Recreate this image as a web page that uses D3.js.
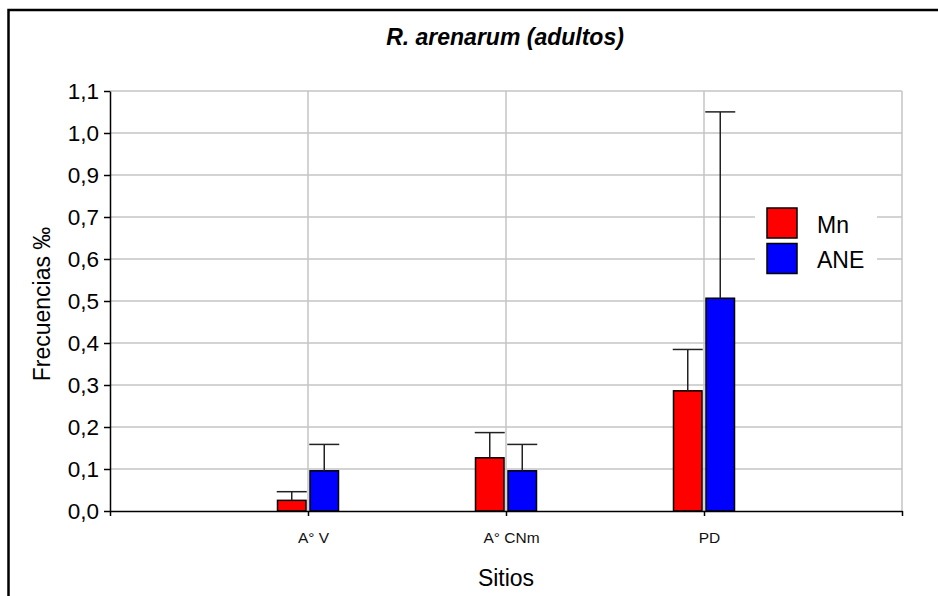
<!DOCTYPE html>
<html>
<head>
<meta charset="utf-8">
<script src="https://cdn.jsdelivr.net/npm/d3@7"></script>
<style>
  html, body { margin: 0; padding: 0; background: #fff; }
  svg { display: block; font-family: "Liberation Sans", Arial, sans-serif; }
</style>
</head>
<body>
<svg id="chart" width="938" height="596"></svg>
<script>
// Sites and series
const categories = ["A° V", "A° CNm", "PD"];
const seriesNames = ["Mn", "ANE"];
const seriesColors = ["#ff0000", "#0000ff"];

// Mean frequencies and upper error (SD) per site
const mnValues = [0.027, 0.135, 0.305];
const mnErrors = [0.022, 0.064, 0.105];
const aneValues = [0.102, 0.102, 0.540];
const aneErrors = [0.067, 0.067, 0.473];

// Value axis: ten equal steps up to yMax, labelled with one decimal
const yMax = 1.066;
const yTickLabels = ["0,0", "0,1", "0,2", "0,3", "0,4", "0,5", "0,6", "0,7", "0,9", "1,0", "1,1"];

const title = "R. arenarum (adultos)";
const xTitle = "Sitios";
const yTitle = "Frecuencias ‰";

const svg = d3.select("#chart");
const W = 938, H = 596;
const plot = { left: 110, right: 902, top: 91, bottom: 511 };

// Outer frame
svg.append("rect")
  .attr("x", 8.5).attr("y", 10)
  .attr("width", W + 20).attr("height", H + 20)
  .attr("fill", "#fff").attr("stroke", "#000").attr("stroke-width", 2.5);

// Scales: one empty slot on each side of the three sites
const x = d3.scaleLinear().domain([0, categories.length + 1]).range([plot.left, plot.right]);
const y = d3.scaleLinear().domain([0, yMax]).range([plot.bottom, plot.top]);
const yTicks = yTickLabels.map((_, i) => i * yMax / (yTickLabels.length - 1));
const xTicks = d3.range(0, categories.length + 2);

const g = svg.append("g");

// Gridlines
g.append("g").selectAll("line.h").data(yTicks.slice(1)).join("line")
  .attr("x1", plot.left).attr("x2", plot.right)
  .attr("y1", d => y(d)).attr("y2", d => y(d))
  .attr("stroke", "#c4c4c4").attr("stroke-width", 1.5);
g.append("g").selectAll("line.v").data(xTicks.slice(1)).join("line")
  .attr("x1", d => x(d)).attr("x2", d => x(d))
  .attr("y1", plot.top).attr("y2", plot.bottom)
  .attr("stroke", "#c4c4c4").attr("stroke-width", 1.5);

// Bars
const barW = 28.5, gap = 2;
const series = [
  { name: seriesNames[0], color: seriesColors[0], values: mnValues, errors: mnErrors, off: -gap - barW },
  { name: seriesNames[1], color: seriesColors[1], values: aneValues, errors: aneErrors, off: gap }
];

series.forEach(s => {
  const sg = g.append("g");
  const rows = categories.map((c, i) => ({ i, v: s.values[i], e: s.errors[i] }));
  sg.selectAll("rect").data(rows).join("rect")
    .attr("x", d => x(d.i + 1) + s.off)
    .attr("y", d => y(d.v))
    .attr("width", barW)
    .attr("height", d => y(0) - y(d.v))
    .attr("fill", s.color)
    .attr("stroke", "#000").attr("stroke-width", 1.5);
  // Upper error bars
  sg.selectAll("line.err").data(rows).join("line")
    .attr("x1", d => x(d.i + 1) + s.off + barW / 2)
    .attr("x2", d => x(d.i + 1) + s.off + barW / 2)
    .attr("y1", d => y(d.v)).attr("y2", d => y(d.v + d.e))
    .attr("stroke", "#222").attr("stroke-width", 1.5);
  sg.selectAll("line.cap").data(rows).join("line")
    .attr("x1", d => x(d.i + 1) + s.off + barW / 2 - 15)
    .attr("x2", d => x(d.i + 1) + s.off + barW / 2 + 15)
    .attr("y1", d => y(d.v + d.e)).attr("y2", d => y(d.v + d.e))
    .attr("stroke", "#222").attr("stroke-width", 1.5);
});

// Axes
const yAxis = d3.axisLeft(y).tickValues(yTicks)
  .tickFormat((d, i) => yTickLabels[i]).tickSize(6).tickPadding(5).tickSizeOuter(0);
const yg = g.append("g").attr("transform", `translate(${plot.left},0)`).call(yAxis);
yg.select(".domain").attr("stroke", "#000").attr("stroke-width", 1.5);
yg.selectAll(".tick line").attr("stroke", "#000").attr("stroke-width", 1.5);
yg.selectAll(".tick text").attr("font-size", 22.5).attr("fill", "#000")
  .attr("font-family", "'Liberation Sans', Arial, sans-serif");

const xAxis = d3.axisBottom(x).tickValues(xTicks)
  .tickFormat(d => categories[d - 1] || "").tickSize(5).tickPadding(16).tickSizeOuter(0);
const xg = g.append("g").attr("transform", `translate(0,${plot.bottom})`).call(xAxis);
xg.select(".domain").attr("stroke", "#000").attr("stroke-width", 1.5);
xg.selectAll(".tick line").attr("stroke", "#000").attr("stroke-width", 1.5);
xg.selectAll(".tick text").attr("font-size", 15.5).attr("fill", "#111")
  .attr("dx", 5)
  .attr("font-family", "'Liberation Sans', Arial, sans-serif");

// Titles
svg.append("text").attr("x", 505).attr("y", 45).attr("text-anchor", "middle")
  .attr("font-size", 23).attr("font-weight", "bold").attr("font-style", "italic")
  .text(title);
svg.append("text").attr("x", (plot.left + plot.right) / 2).attr("y", 586)
  .attr("text-anchor", "middle").attr("font-size", 23).text(xTitle);
svg.append("text").attr("transform", `translate(50,${(plot.top + plot.bottom) / 2 + 3}) rotate(-90)`)
  .attr("text-anchor", "middle").attr("font-size", 23).text(yTitle);

// Legend
const lg = svg.append("g").attr("transform", "translate(755,196)");
lg.append("rect").attr("width", 122).attr("height", 90).attr("fill", "#fff");
series.forEach((s, i) => {
  lg.append("rect").attr("x", 12).attr("y", 12 + i * 35.5)
    .attr("width", 30).attr("height", 30)
    .attr("fill", s.color).attr("stroke", "#000").attr("stroke-width", 1.5);
  lg.append("text").attr("x", 62).attr("y", 36.5 + i * 35)
    .attr("font-size", 23).text(s.name);
});
</script>
</body>
</html>
